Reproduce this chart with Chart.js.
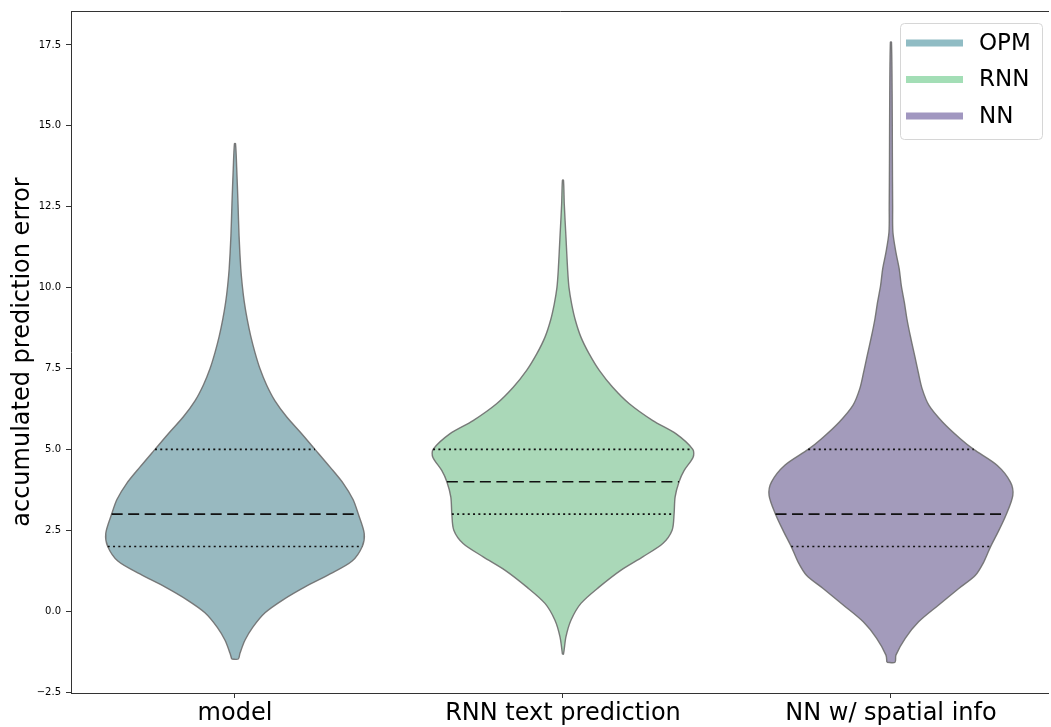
<!DOCTYPE html>
<html>
<head>
<meta charset="utf-8">
<script src="https://cdn.jsdelivr.net/npm/chart.js@4.4.0/dist/chart.umd.min.js"></script>
<style>
  html, body { margin: 0; padding: 0; background: #fff; overflow: hidden; }
  canvas { display: block; }
</style>
</head>
<body>
<canvas id="myChart" width="1051" height="727"></canvas>
<script>
var categories = ['model', 'RNN text prediction', 'NN w/ spatial info'];
var seriesNames = ['OPM', 'RNN', 'NN'];
var yTicks = [-2.5, 0, 2.5, 5, 7.5, 10, 12.5, 15, 17.5];

// violin outlines: y level -> relative density (1 = widest violin)
var opmY = [14.45, 13.7, 12.6, 11.6, 10.6, 10.05, 9.55, 9.0, 8.5, 8.0, 7.5, 7.0, 6.5, 6.0, 5.5, 5.0, 4.45, 3.95, 3.45, 3.0, 2.4, 2.0, 1.55, 1.15, 0.75, 0.35, -0.05, -0.5, -0.9, -1.3, -1.48];
var opmDensity = [0.004, 0.013, 0.023, 0.031, 0.044, 0.056, 0.071, 0.094, 0.12, 0.152, 0.19, 0.24, 0.305, 0.395, 0.505, 0.61, 0.725, 0.825, 0.9, 0.94, 0.985, 0.97, 0.893, 0.725, 0.534, 0.366, 0.229, 0.135, 0.076, 0.038, 0.025];

var rnnY = [13.32, 12.58, 11.55, 10.52, 10.0, 9.5, 9.0, 8.47, 7.95, 7.44, 6.92, 6.41, 5.89, 5.48, 5.0, 4.76, 4.35, 4.0, 3.53, 3.0, 2.5, 2.09, 1.68, 1.27, 0.75, 0.24, -0.28, -0.79, -1.33];
var rnnDensity = [0.004, 0.01, 0.023, 0.036, 0.046, 0.066, 0.094, 0.137, 0.2, 0.277, 0.379, 0.506, 0.685, 0.863, 0.99, 0.992, 0.924, 0.885, 0.855, 0.847, 0.832, 0.761, 0.608, 0.443, 0.277, 0.137, 0.061, 0.023, 0.004];

var nnY = [17.59, 16.0, 14.0, 12.5, 11.71, 11.09, 10.58, 10.06, 9.55, 9.03, 8.52, 7.9, 7.39, 6.87, 6.36, 5.84, 5.33, 5.0, 4.51, 3.99, 3.58, 2.98, 2.45, 1.98, 1.52, 1.11, 0.7, 0.19, -0.33, -0.84, -1.36, -1.58];
var nnDensity = [0.004, 0.009, 0.011, 0.013, 0.015, 0.038, 0.063, 0.079, 0.102, 0.122, 0.147, 0.181, 0.208, 0.238, 0.29, 0.395, 0.529, 0.631, 0.809, 0.911, 0.929, 0.878, 0.817, 0.758, 0.708, 0.644, 0.517, 0.364, 0.211, 0.109, 0.038, 0.031];

// lower quartile, median, upper quartile
var opmQuartiles = [2, 3, 5];
var rnnQuartiles = [3, 4, 5];
var nnQuartiles = [2, 3, 5];

var fillColors = ['#98b9c0', '#aad8b8', '#a39bbb'];
var legendColors = ['#90bcc4', '#a3deb6', '#a197c0'];

var HALF = 0.4; // half of violin width in category units

function violinPoints(pos, ys, ds) {
    var pts = [];
    for (var i = ys.length - 1; i >= 0; i--) pts.push({x: pos - HALF * ds[i], y: ys[i]});
    for (var j = 0; j < ys.length; j++) pts.push({x: pos + HALF * ds[j], y: ys[j]});
    pts.push(pts[0]);
    return pts;
}

function densityAt(ys, ds, v) {
    for (var i = 0; i < ys.length - 1; i++) {
        var a = ys[i], b = ys[i + 1];
        if (v <= a && v >= b) {
            var t = (a - v) / (a - b);
            return ds[i] + (ds[i + 1] - ds[i]) * t;
        }
    }
    return 0;
}

var violins = [
    {y: opmY, d: opmDensity, q: opmQuartiles},
    {y: rnnY, d: rnnDensity, q: rnnQuartiles},
    {y: nnY, d: nnDensity, q: nnQuartiles}
];

var datasets = [];
violins.forEach(function (v, i) {
    v.q.forEach(function (q, k) {
        var w = HALF * densityAt(v.y, v.d, q);
        datasets.push({
            data: [{x: i - w, y: q}, {x: i + w, y: q}],
            showLine: true,
            borderColor: '#111',
            borderWidth: 1.6,
            borderDash: k === 1 ? [11, 5.5] : [2, 3.3],
            pointRadius: 0,
            fill: false,
            order: 0
        });
    });
});
violins.forEach(function (v, i) {
    datasets.push({
        label: seriesNames[i],
        data: violinPoints(i, v.y, v.d),
        showLine: true,
        borderColor: 'rgba(110,110,110,0.9)',
        borderWidth: 1.4,
        backgroundColor: fillColors[i],
        fill: 'shape',
        tension: 0.3,
        pointRadius: 0,
        order: 1
    });
});

// top spine, bottom spine run on towards the edge of the picture, plus legend
var framePlugin = {
    id: 'frameAndLegend',
    afterDraw: function (chart) {
        var ctx = chart.ctx;
        var a = chart.chartArea;
        var w = chart.width - 2;
        ctx.save();
        ctx.strokeStyle = '#333';
        ctx.lineWidth = 1;
        ctx.beginPath();
        ctx.moveTo(Math.round(a.left) + 0.5, Math.round(a.top) + 0.5);
        ctx.lineTo(w, Math.round(a.top) + 0.5);
        ctx.moveTo(a.right - 1, Math.round(a.bottom) + 0.5);
        ctx.lineTo(w, Math.round(a.bottom) + 0.5);
        ctx.stroke();

        ctx.beginPath();
        ctx.roundRect(900.5, 23.5, 142, 116, 4);
        ctx.fillStyle = 'rgba(255,255,255,0.85)';
        ctx.fill();
        ctx.strokeStyle = '#d6d6d6';
        ctx.stroke();
        ctx.font = '23px "DejaVu Sans"';
        ctx.textBaseline = 'middle';
        for (var i = 0; i < seriesNames.length; i++) {
            var yy = 43 + i * 36.5;
            ctx.fillStyle = legendColors[i];
            ctx.fillRect(906, yy - 3.5, 57, 7);
            ctx.fillStyle = '#000';
            ctx.fillText(seriesNames[i], 979, yy + 1);
        }
        ctx.restore();
    }
};

var ctx = document.getElementById('myChart');
var myChart = new Chart(ctx, {
    type: 'scatter',
    data: {datasets: datasets},
    plugins: [framePlugin],
    options: {
        responsive: false,
        devicePixelRatio: 1,
        animation: false,
        layout: {padding: {top: 10, right: 21, left: 0, bottom: 0}},
        plugins: {legend: {display: false}, tooltip: {enabled: false}},
        scales: {
            x: {
                type: 'linear',
                min: -0.5,
                max: 2.424,
                afterFit: function (s) { s.height = 34; },
                afterBuildTicks: function (s) {
                    s.ticks = categories.map(function (c, i) { return {value: i}; });
                },
                ticks: {
                    callback: function (v) { return categories[v]; },
                    font: {family: 'DejaVu Sans', size: 24},
                    color: '#000',
                    padding: 1,
                    maxRotation: 0
                },
                grid: {drawOnChartArea: false, drawTicks: true, tickLength: 5, tickColor: '#333'},
                border: {display: true, color: '#333', width: 1}
            },
            y: {
                type: 'linear',
                min: -2.53,
                max: 18.55,
                afterFit: function (s) { s.width = 71; },
                afterBuildTicks: function (s) {
                    s.ticks = yTicks.map(function (v) { return {value: v}; });
                },
                ticks: {
                    callback: function (v) { return (v < 0 ? '\u2212' : '') + Math.abs(v).toFixed(1); },
                    font: {family: 'DejaVu Sans', size: 10},
                    color: '#000',
                    padding: 5
                },
                grid: {drawOnChartArea: false, drawTicks: true, tickLength: 5, tickColor: '#333'},
                border: {display: true, color: '#333', width: 1},
                title: {
                    display: true,
                    text: 'accumulated prediction error',
                    font: {family: 'DejaVu Sans', size: 24},
                    color: '#000',
                    padding: {top: 8, bottom: 0}
                }
            }
        }
    }
});
</script>
</body>
</html>
